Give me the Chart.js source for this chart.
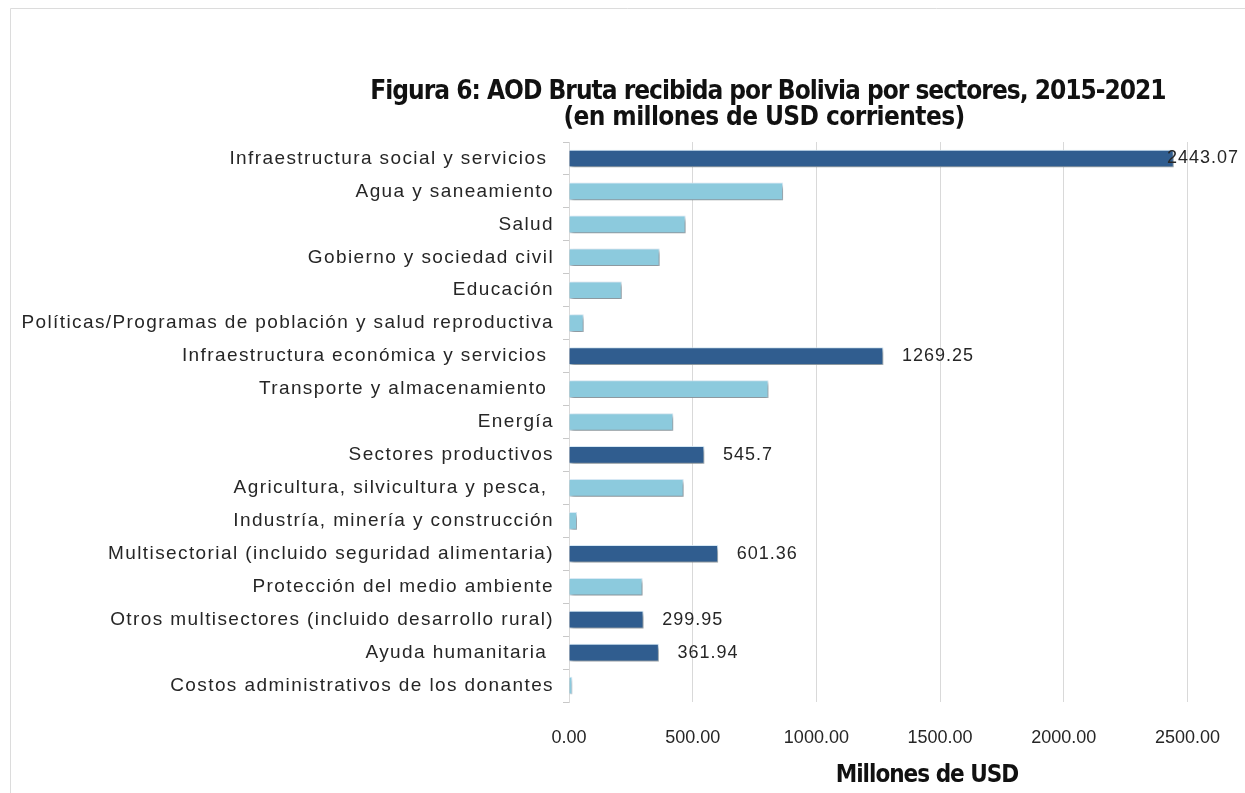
<!DOCTYPE html>
<html lang="es">
<head>
<meta charset="utf-8" />
<title>AOD Bruta recibida por Bolivia por sectores</title>
<style>
  html, body { margin: 0; padding: 0; background: #fff; }
</style>
<script src="https://cdn.jsdelivr.net/npm/chart.js@4"></script>
</head>
<body>
<canvas id="aodChart" width="1245" height="793"></canvas>
<script>
// datos (millones de USD corrientes)
const sectores = [
  'Infraestructura social y servicios ',
  'Agua y saneamiento',
  'Salud',
  'Gobierno y sociedad civil',
  'Educación',
  'Políticas/Programas de población y salud reproductiva',
  'Infraestructura económica y servicios ',
  'Transporte y almacenamiento ',
  'Energía',
  'Sectores productivos',
  'Agricultura, silvicultura y pesca, ',
  'Industría, minería y construcción',
  'Multisectorial (incluido seguridad alimentaria)',
  'Protección del medio ambiente',
  'Otros multisectores (incluido desarrollo rural)',
  'Ayuda humanitaria ',
  'Costos administrativos de los donantes'
];
const montos = [2443.07, 864, 470, 365, 212, 58, 1269.25, 805, 420, 545.7, 462, 31, 601.36, 296, 299.95, 361.94, 12];
const esPrincipal = [true, false, false, false, false, false, true, false, false, true, false, false, true, false, true, true, false];
const ticksX = [0, 500, 1000, 1500, 2000, 2500];
const titulo = ['Figura 6: AOD Bruta recibida por Bolivia por sectores, 2015-2021', '(en millones de USD corrientes)'];
const tituloEje = 'Millones de USD';

const azulOscuro = '#305d8f';
const azulClaro = '#8ccadd';
const fuente = "'Liberation Sans', Arial, sans-serif";
const fuenteNarrow = "'Liberation Sans Narrow', 'Arial Narrow', 'DejaVu Sans Condensed', sans-serif";

const marco = {
  id: 'marco',
  beforeDraw(chart) {
    const ctx = chart.ctx;
    ctx.save();
    ctx.fillStyle = '#fff';
    ctx.fillRect(0, 0, chart.width, chart.height);
    ctx.strokeStyle = '#dcdcdc';
    ctx.lineWidth = 1;
    ctx.beginPath();
    ctx.moveTo(10.5, chart.height);
    ctx.lineTo(10.5, 8.5);
    ctx.lineTo(chart.width, 8.5);
    ctx.stroke();
    ctx.restore();

    // etiquetas de categoría algo espaciadas, como en el original
    const y = chart.scales.y;
    if (y && !y._espaciado) {
      const dibujar = y.drawLabels;
      y.drawLabels = function (area) {
        this.ctx.save();
        this.ctx.letterSpacing = '1.4px';
        dibujar.call(this, area);
        this.ctx.restore();
      };
      y._espaciado = true;
    }
  }
};

const sombra = {
  id: 'sombra',
  beforeDatasetsDraw(chart) {
    const ctx = chart.ctx;
    ctx.save();
    ctx.shadowColor = 'rgba(0,0,0,0.4)';
    ctx.shadowBlur = 4;
    ctx.shadowOffsetX = 2;
    ctx.shadowOffsetY = 3;
  },
  afterDatasetsDraw(chart) {
    chart.ctx.restore();
  }
};

const etiquetas = {
  id: 'etiquetas',
  afterDatasetsDraw(chart) {
    const ctx = chart.ctx;
    const meta = chart.getDatasetMeta(0);
    ctx.save();
    ctx.font = '18px ' + fuente;
    ctx.letterSpacing = '1px';
    ctx.fillStyle = '#262626';
    ctx.textBaseline = 'middle';
    meta.data.forEach((bar, i) => {
      if (!esPrincipal[i]) return;
      const txt = String(montos[i]);
      const w = ctx.measureText(txt).width;
      const x = Math.min(bar.x + 19, chart.width - w - 6);
      ctx.fillText(txt, x, bar.y);
    });
    ctx.restore();
  }
};

const textos = {
  id: 'textos',
  afterDraw(chart) {
    const ctx = chart.ctx;
    ctx.save();
    ctx.fillStyle = '#111';
    ctx.textAlign = 'center';
    ctx.textBaseline = 'middle';
    ctx.font = 'bold 26px ' + fuenteNarrow;
    ctx.letterSpacing = '-1px';
    ctx.fillText(titulo[0], 768, 92);
    ctx.letterSpacing = '-0.6px';
    ctx.fillText(titulo[1], 764, 118);
    ctx.font = 'bold 24px ' + fuenteNarrow;
    ctx.letterSpacing = '-1px';
    ctx.fillText(tituloEje, 927, 776);
    ctx.restore();
  }
};

new Chart(document.getElementById('aodChart'), {
  type: 'bar',
  data: {
    labels: sectores,
    datasets: [{
      data: montos,
      backgroundColor: esPrincipal.map(p => p ? azulOscuro : azulClaro),
      borderColor: 'rgba(215,235,248,0.9)',
      borderWidth: 1,
      barThickness: 17
    }]
  },
  options: {
    indexAxis: 'y',
    responsive: false,
    animation: false,
    devicePixelRatio: 1,
    layout: { padding: { top: 142, right: 56, left: 0, bottom: 0 } },
    plugins: {
      legend: { display: false },
      tooltip: { enabled: false }
    },
    scales: {
      x: {
        min: 0,
        max: 2500,
        afterBuildTicks: s => { s.ticks = ticksX.map(v => ({ value: v })); },
        afterFit: s => { s.height = 91; },
        border: { display: false },
        grid: { color: '#d9d9d9', drawTicks: false },
        ticks: {
          padding: 25,
          color: '#262626',
          font: { family: fuente, size: 18 },
          callback: v => v.toFixed(2)
        }
      },
      y: {
        afterFit: s => { s.width = 569; },
        border: { display: true, color: '#d9d9d9' },
        grid: { drawOnChartArea: false, color: '#c8c8c8', tickLength: 6 },
        ticks: {
          padding: 9,
          color: '#262626',
          font: { family: fuente, size: 19 },
          autoSkip: false
        }
      }
    }
  },
  plugins: [marco, sombra, etiquetas, textos]
});
</script>
</body>
</html>
